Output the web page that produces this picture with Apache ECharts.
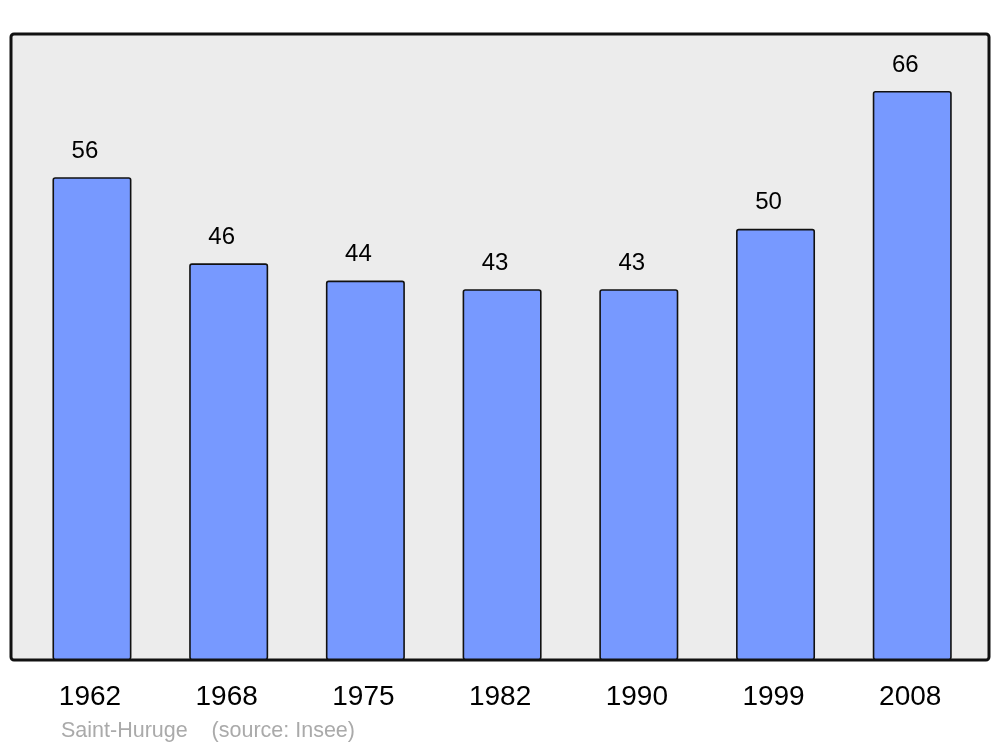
<!DOCTYPE html>
<html>
<head>
<meta charset="utf-8">
<script src="https://cdn.jsdelivr.net/npm/echarts@6/dist/echarts.min.js"></script>
<style>html,body{margin:0;padding:0;background:#fff}#c{width:1000px;height:747px}</style>
</head>
<body>
<div id="c"></div>
<script>
const years = ['1962','1968','1975','1982','1990','1999','2008'];
const population = [56, 46, 44, 43, 43, 50, 66];
const footer = 'Saint-Huruge    (source: Insee)';

const chart = echarts.init(document.getElementById('c'), null, {renderer: 'canvas'});
chart.setOption({
  animation: false,
  backgroundColor: '#ffffff',
  graphic: [
    {type: 'rect', z: -10, shape: {x: 11, y: 34, width: 978, height: 626, r: 3},
     style: {fill: '#ececec', stroke: '#111111', lineWidth: 3}},
    {type: 'text', left: 61, top: 720,
     style: {text: footer, fill: '#aaaaaa', font: '21.5px "Liberation Sans", Arial, sans-serif'}}
  ],
  grid: {left: 23.6, top: 34, width: 957, height: 626, containLabel: false},
  xAxis: {
    type: 'category', data: years,
    axisLine: {show: false}, axisTick: {show: false},
    axisLabel: {margin: 23, fontSize: 28, color: '#000', padding: [0, 4, 0, 0],
                fontFamily: '"Liberation Sans", Arial, sans-serif'}
  },
  yAxis: {
    type: 'value', min: 0, max: 72.6, show: false, splitLine: {show: false}
  },
  series: [{
    type: 'bar', data: population, barWidth: 79,
    itemStyle: {color: '#7799ff', borderColor: '#111111', borderWidth: 1.6, borderRadius: 2},
    label: {show: true, position: 'top', distance: 14, offset: [-7, 0], fontSize: 24, color: '#000',
            fontFamily: '"Liberation Sans", Arial, sans-serif'}
  }]
});
</script>
</body>
</html>
